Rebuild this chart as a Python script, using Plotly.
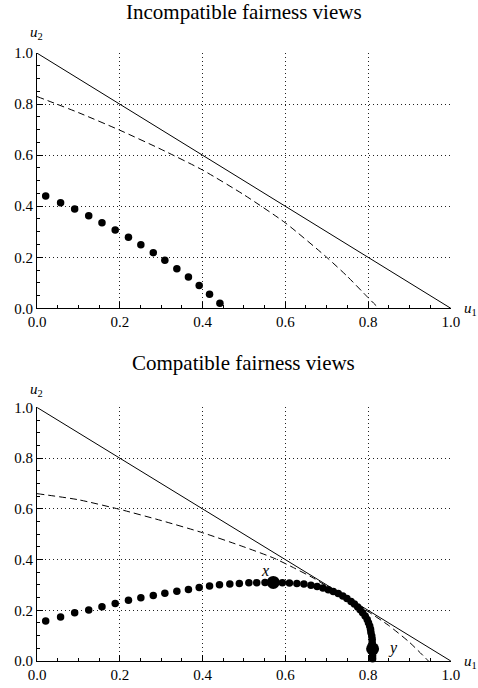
import plotly.graph_objects as go

FONT = "Liberation Serif, Times New Roman, serif"

# ---------------- data ----------------
frontier_x = [0.0, 1.0]
frontier_y = [1.0, 0.0]

top_dash_x = [0.0, 0.1, 0.2, 0.3, 0.4, 0.5, 0.6, 0.7, 0.75, 0.8, 0.826]
top_dash_y = [0.83, 0.767, 0.698, 0.623, 0.542, 0.445, 0.335, 0.20, 0.125, 0.042, 0.0]

top_dots_x = [0.021, 0.057, 0.091, 0.125, 0.157, 0.189, 0.221, 0.251, 0.281, 0.309,
              0.338, 0.366, 0.392, 0.417, 0.442]
top_dots_y = [0.440, 0.414, 0.389, 0.363, 0.335, 0.307, 0.278, 0.249, 0.218, 0.188,
              0.155, 0.123, 0.089, 0.055, 0.020]

bot_dash_x = [0.0, 0.1, 0.2, 0.3, 0.4, 0.5, 0.572, 0.62, 0.668, 0.72, 0.8, 0.85, 0.9, 0.946]
bot_dash_y = [0.66, 0.636, 0.598, 0.554, 0.506, 0.45, 0.406, 0.368, 0.327, 0.275, 0.195, 0.14, 0.074, 0.0]

bot_dots_x = [0.021, 0.057, 0.091, 0.125, 0.157, 0.189, 0.221, 0.251, 0.281, 0.309,
              0.338, 0.366, 0.392, 0.417, 0.441, 0.466, 0.489, 0.512, 0.531, 0.551,
              0.571, 0.593, 0.610, 0.628, 0.645, 0.662, 0.677, 0.691, 0.704, 0.716,
              0.728, 0.739, 0.749, 0.759, 0.767, 0.775, 0.781, 0.787, 0.793, 0.798,
              0.801, 0.804, 0.806, 0.807, 0.809, 0.810, 0.810, 0.811, 0.811, 0.811,
              0.811, 0.811]
bot_dots_y = [0.158, 0.174, 0.190, 0.201, 0.214, 0.227, 0.240, 0.249, 0.258, 0.267,
              0.275, 0.282, 0.290, 0.296, 0.301, 0.304, 0.306, 0.309, 0.309, 0.310,
              0.310, 0.309, 0.308, 0.306, 0.304, 0.299, 0.294, 0.288, 0.281, 0.274,
              0.266, 0.256, 0.246, 0.235, 0.225, 0.213, 0.202, 0.190, 0.177, 0.164,
              0.151, 0.138, 0.125, 0.112, 0.099, 0.086, 0.073, 0.060, 0.047, 0.034,
              0.021, 0.009]

big_pts_x = [0.571, 0.811]
big_pts_y = [0.310, 0.048]
big_labels = ["x", "y"]
big_label_x = [0.552, 0.861]
big_label_y = [0.357, 0.052]

titles = ["Incompatible fairness views", "Compatible fairness views"]
tick_vals = [0.0, 0.2, 0.4, 0.6, 0.8, 1.0]

# ---------------- figure ----------------
W, H = 478, 688
ML, MR, MT, MB = 37, 27, 53, 27
PW, PH = W - ML - MR, H - MT - MB

def px_to_paper_x(px):
    return (px - ML) / PW

def px_to_paper_y(py):
    return (H - MB - py) / PH

fig = go.Figure()

def add_panel(xa, ya, dash_x, dash_y, dots_x, dots_y):
    fig.add_trace(go.Scatter(x=frontier_x, y=frontier_y, mode="lines",
                             line=dict(color="black", width=1),
                             xaxis=xa, yaxis=ya, hoverinfo="skip"))
    fig.add_trace(go.Scatter(x=dash_x, y=dash_y, mode="lines",
                             line=dict(color="black", width=1, dash="7px,4px",
                                       shape="spline", smoothing=0.6),
                             xaxis=xa, yaxis=ya, hoverinfo="skip"))
    fig.add_trace(go.Scatter(x=dots_x, y=dots_y, mode="markers",
                             marker=dict(color="black", size=7.5, line=dict(width=0)),
                             cliponaxis=False, xaxis=xa, yaxis=ya))

add_panel("x", "y", top_dash_x, top_dash_y, top_dots_x, top_dots_y)
add_panel("x2", "y2", bot_dash_x, bot_dash_y, bot_dots_x, bot_dots_y)
fig.add_trace(go.Scatter(x=big_pts_x, y=big_pts_y, mode="markers",
                         marker=dict(color="black", size=13, line=dict(width=0)),
                         cliponaxis=False, xaxis="x2", yaxis="y2"))

axis_common = dict(
    range=[0, 1.0005], tickmode="array", tickvals=tick_vals, tickformat=".1f",
    ticks="inside", ticklen=6, tickwidth=1, tickcolor="black",
    showline=True, linecolor="black", linewidth=1,
    showgrid=True, gridcolor="#222", gridwidth=1, griddash="1px,3px",
    zeroline=False, automargin=False,
    minor=dict(tickmode="linear", tick0=0, dtick=0.05, ticks="inside", ticklen=3,
               tickcolor="black", tickwidth=1, showgrid=False),
    tickfont=dict(family=FONT, size=15, color="black"),
    fixedrange=True,
)

top_dom = [px_to_paper_y(308.3), 1.0]
bot_dom = [0.0, px_to_paper_y(407.3)]

fig.update_layout(
    width=W, height=H,
    margin=dict(l=ML, r=MR, t=MT, b=MB, pad=0),
    paper_bgcolor="white", plot_bgcolor="white",
    showlegend=False,
    xaxis=dict(axis_common, domain=[0, 1], anchor="y"),
    yaxis=dict(axis_common, domain=top_dom, anchor="x"),
    xaxis2=dict(axis_common, domain=[0, 1], anchor="y2"),
    yaxis2=dict(axis_common, domain=bot_dom, anchor="x2"),
)

ann = []
# titles
for t, py in zip(titles, (11.5, 362.5)):
    ann.append(dict(text=t, xref="paper", yref="paper", x=px_to_paper_x(243.5),
                    y=px_to_paper_y(py), xanchor="center", yanchor="middle",
                    showarrow=False, font=dict(family=FONT, size=21, color="black")))
# axis labels
for u2_py, u1_py in ((33.5, 308.5), (389.5, 661.7)):
    ann.append(dict(text="<i>u</i><sub>2</sub>", xref="paper", yref="paper",
                    x=px_to_paper_x(28), y=px_to_paper_y(u2_py),
                    xanchor="left", yanchor="middle", showarrow=False,
                    font=dict(family=FONT, size=15, color="black")))
    ann.append(dict(text="<i>u</i><sub>1</sub>", xref="paper", yref="paper",
                    x=px_to_paper_x(462), y=px_to_paper_y(u1_py),
                    xanchor="left", yanchor="middle", showarrow=False,
                    font=dict(family=FONT, size=15, color="black")))
# point labels
for t, lx, ly in zip(big_labels, big_label_x, big_label_y):
    ann.append(dict(text="<i>%s</i>" % t, xref="x2", yref="y2", x=lx, y=ly,
                    xanchor="center", yanchor="middle", showarrow=False,
                    font=dict(family=FONT, size=16, color="black")))
fig.update_layout(annotations=ann)

fig.write_html("out.html",
               config={"displayModeBar": False, "staticPlot": True},
               post_script="document.body.style.margin='0px';document.body.style.overflow='hidden';")
